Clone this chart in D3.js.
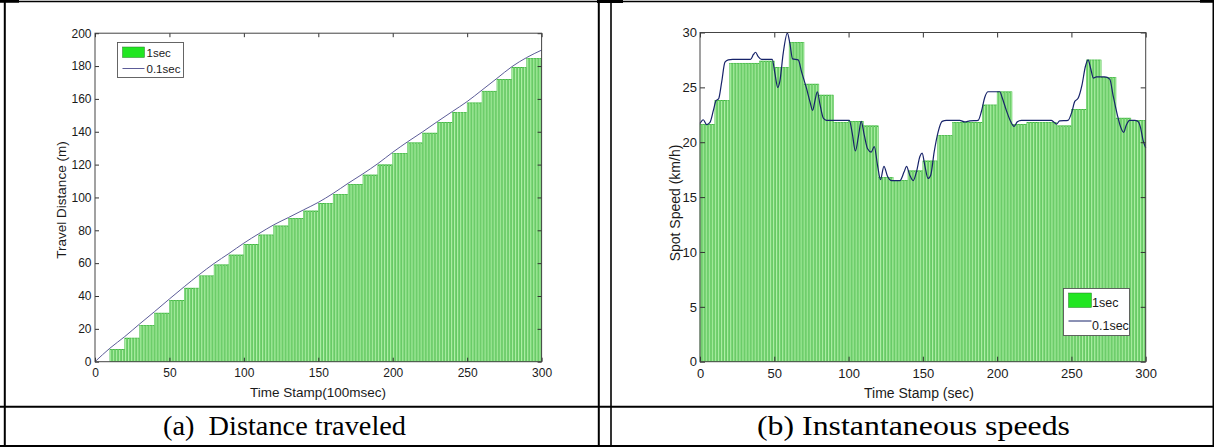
<!DOCTYPE html>
<html>
<head>
<meta charset="utf-8">
<script src="https://cdn.jsdelivr.net/npm/d3@7"></script>
<style>
  html, body { margin: 0; padding: 0; background: #fff; }
  svg { display: block; }
</style>
</head>
<body>
<svg id="fig" width="1214" height="447"></svg>
<script>

// ---- data ----

// shared x ticks (both panels)
var xTicks = [0, 50, 100, 150, 200, 250, 300]

// (a) distance : 1sec steps, one value per 10 time units
var distSteps = [0, 7.3, 14.4, 22.1, 29.6, 37.3, 44.8, 52.3, 59, 65,
  71.5, 77.2, 82.7, 87.1, 91.8, 96.4, 101.9, 108, 113.7, 119.9,
  126.9, 133.3, 139.2, 145.5, 151.6, 157.6, 164.7, 171.9, 179.1, 184.6]
// (a) distance : 0.1sec curve
var distLineT = [0, 10, 20, 30, 40, 50, 60, 70, 80, 90, 100, 110, 120, 130, 140, 150,
  160, 170, 180, 190, 200, 210, 220, 230, 240, 250, 260, 270, 280, 290, 300]
var distLineV = [0, 8.2, 15.3, 23, 30.5, 38.2, 45.7, 53, 59.8, 65.9, 72.2, 77.9, 83.3, 87.8, 92.4, 97,
  102.5, 108.6, 114.4, 120.6, 127.5, 133.9, 139.9, 146.2, 152.3, 158.4, 165.4, 172.5, 179.6, 185.2, 189.7]
var distTicks = [0, 20, 40, 60, 80, 100, 120, 140, 160, 180, 200]

// (b) speed : 1sec steps
var speedSteps = [21.6, 23.8, 27.2, 27.2, 27.4, 26.8, 29.1, 25.3, 24.3, 21.8,
  21.9, 21.5, 16.8, 16.5, 17.4, 18.3, 20.6, 21.8, 21.8, 23.4,
  24.6, 21.6, 21.8, 21.8, 21.5, 23.0, 27.5, 25.9, 22.2, 22.0]
// (b) speed : 0.1sec curve
var speedLineT = [0, 2.2, 4.5, 6.7, 9, 10.8, 12.5, 14.6, 16.8, 19, 22, 34, 36, 37.4, 39.2, 41.4, 48.6,
  50.4, 52.3, 53.8, 56, 58.8, 60.5, 62.3, 66.1, 68.4, 71.7, 74, 75.8, 77.4, 79, 80.7, 83, 85.2,
  100.5, 102.5, 104.6, 106.6, 108.5, 110.5, 112.8, 115.2, 117.3, 119.5, 121.5, 123.8, 126.2, 129,
  134.5, 137.4, 139, 141.2, 143.5, 145.7, 148, 149.5, 151.3, 153.5, 155.3, 157.6, 160.3, 163, 165.9,
  174.8, 178.2, 181.6, 187.2, 189.4, 191.7, 193.9, 201.8, 203.3, 206.2, 209.2, 211.4, 213.6, 216.3,
  236.5, 239.9, 242.1, 247.7, 250.4, 252.2, 254.5, 257.1, 259.4, 261.2, 263, 264.8, 266.8, 272.4,
  275.8, 278, 280.9, 283.1, 285.2, 286.9, 289.2, 292.6, 294.8, 296.4, 298.2, 300]
var speedLineV = [21.7, 22.05, 21.6, 21.8, 22.9, 23.8, 23.95, 25.5, 27.3, 27.5, 27.55, 27.55, 28.0, 28.2, 27.8, 27.55, 27.55,
  26.3, 25.0, 25.6, 28.1, 29.95, 29.0, 27.6, 27.5, 26.4, 24.9, 23.7, 22.9, 23.8, 24.6, 23.5, 22.2, 22.0,
  22.0, 20.8, 19.2, 20.5, 21.9, 20.7, 19.4, 19.1, 19.6, 17.9, 16.6, 17.8, 16.9, 16.5,
  16.5, 17.3, 17.8, 17.0, 16.5, 17.3, 18.7, 19.0, 17.9, 16.7, 17.0, 19.1, 20.95, 21.9, 22.0,
  22.0, 21.85, 21.95, 22.0, 22.8, 24.1, 24.6, 24.6, 24.1, 22.9, 21.86, 21.45, 21.86, 22.0,
  22.0, 21.65, 21.95, 22.0, 22.8, 23.7, 24.0, 25.2, 26.9, 27.5, 26.7, 25.85, 25.95, 25.95,
  25.75, 24.3, 22.5, 21.4, 20.9, 21.55, 22.0, 22.0, 21.9, 21.4, 20.2, 19.5]
var speedTicks = [0, 5, 10, 15, 20, 25, 30]

var legendLabels = ['1sec', '0.1sec']


///////////////////////////////////////////////////////////////////////////////

var svg = d3.select('#fig')
var sansFont = '"Liberation Sans", Arial, Helvetica, sans-serif'
var serifFont = '"Liberation Serif", "Times New Roman", Times, serif'

// table borders
function drawTable(){
  var t = svg.append('g').attr('class', 'table')
  var lines = [
    [0, 1.4, 1214, 1.4, 1.5],
    [0, 406.7, 1214, 406.7, 2],
    [0, 446, 1214, 446, 2],
    [4.8, 0, 4.8, 447, 2],
    [598.8, 0, 598.8, 447, 2],
    [611, 0, 611, 447, 1.6],
    [1213.5, 0, 1213.5, 447, 2]
  ]
  lines.forEach(function(l){
    t.append('line')
      .attr('x1', l[0]).attr('y1', l[1]).attr('x2', l[2]).attr('y2', l[3])
      .attr('stroke', '#000').attr('stroke-width', l[4])
  })
  // thicker corner bits at the top edge
  t.append('rect').attr('x', 0).attr('y', 0).attr('width', 19).attr('height', 2.7).attr('fill', '#000')
  t.append('rect').attr('x', 597).attr('y', 0).attr('width', 26).attr('height', 3).attr('fill', '#000')
  t.append('rect').attr('x', 1200).attr('y', 0).attr('width', 14).attr('height', 2.7).attr('fill', '#000')
}

// one matlab style panel
function drawPanel(cfg){
  var g = svg.append('g').attr('class', 'panel')

  var x = d3.scaleLinear().domain([0, 300]).range([cfg.left, cfg.right])
  var y = d3.scaleLinear().domain([0, cfg.yMax]).range([cfg.bottom, cfg.top])

  // 1sec bars, drawn as 300 thin bars (one per 0.1sec slot)
  var bars = d3.range(300).map(function(j){
    return {j: j, v: cfg.steps[Math.floor(j / 10)]}
  })
  g.append('g').selectAll('rect')
      .data(bars.filter(function(d){ return d.v > 0 }))
    .enter().append('rect')
      .attr('x', function(d){ return x(d.j) })
      .attr('width', function(d){ return x(d.j + 1) - x(d.j) })
      .attr('y', function(d){ return y(d.v) })
      .attr('height', function(d){ return y(0) - y(d.v) })
      .attr('fill', '#b0f0a8')
      .attr('stroke', '#40b840')
      .attr('stroke-width', 0.5)

  // 0.1sec curve
  var pts = cfg.lineT.map(function(t, i){ return [t, cfg.lineV[i]] })
  g.append('path')
      .datum(pts)
      .attr('fill', 'none')
      .attr('stroke', cfg.lineColor)
      .attr('stroke-width', cfg.lineWidth)
      .attr('d', d3.line()
        .x(function(d){ return x(d[0]) })
        .y(function(d){ return y(d[1]) })
        .curve(d3.curveMonotoneX))

  // axes, ticks pointing inwards on all four sides
  function styleAxis(sel){
    sel.select('.domain').remove()
    sel.selectAll('.tick line').attr('stroke', '#333')
    sel.selectAll('.tick text')
      .attr('fill', '#1a1a1a')
      .style('font-family', sansFont)
      .style('font-size', cfg.tickFont + 'px')
  }
  g.append('g')
      .attr('transform', 'translate(0,' + cfg.bottom + ')')
      .call(d3.axisBottom(x).tickValues(xTicks).tickSizeInner(-cfg.tick).tickSizeOuter(0).tickPadding(cfg.xPad))
      .call(styleAxis)
  g.append('g')
      .attr('transform', 'translate(' + cfg.left + ',0)')
      .call(d3.axisLeft(y).tickValues(cfg.yTicks).tickSizeInner(-cfg.tick).tickSizeOuter(0).tickPadding(cfg.yPad))
      .call(styleAxis)
  g.append('g')
      .attr('transform', 'translate(0,' + cfg.top + ')')
      .call(d3.axisTop(x).tickValues(xTicks).tickSizeInner(-cfg.tick).tickSizeOuter(0).tickFormat(''))
      .call(styleAxis)
  g.append('g')
      .attr('transform', 'translate(' + cfg.right + ',0)')
      .call(d3.axisRight(y).tickValues(cfg.yTicks).tickSizeInner(-cfg.tick).tickSizeOuter(0).tickFormat(''))
      .call(styleAxis)

  // axes box
  g.append('rect')
      .attr('x', cfg.left).attr('y', cfg.top)
      .attr('width', cfg.right - cfg.left).attr('height', cfg.bottom - cfg.top)
      .attr('fill', 'none').attr('stroke', '#444').attr('stroke-width', 1)

  // axis titles
  g.append('text')
      .attr('x', cfg.xTitle[1]).attr('y', cfg.xTitle[2])
      .attr('text-anchor', 'middle')
      .style('font-family', sansFont).style('font-size', cfg.titleFont + 'px')
      .attr('fill', '#1a1a1a')
      .text(cfg.xTitle[0])
  g.append('text')
      .attr('transform', 'translate(' + cfg.yTitle[1] + ',' + cfg.yTitle[2] + ') rotate(-90)')
      .attr('text-anchor', 'middle')
      .style('font-family', sansFont).style('font-size', cfg.titleFont + 'px')
      .attr('fill', '#1a1a1a')
      .text(cfg.yTitle[0])

  // legend
  var L = cfg.legend
  var lg = g.append('g').attr('transform', 'translate(' + L.x + ',' + L.y + ')')
  lg.append('rect')
      .attr('width', L.w).attr('height', L.h)
      .attr('fill', '#fff').attr('stroke', '#555').attr('stroke-width', 0.9)
  lg.append('rect')
      .attr('x', 5).attr('y', L.swY).attr('width', L.swW).attr('height', L.swH)
      .attr('fill', '#22e622').attr('stroke', '#2a7a2a').attr('stroke-width', 0.5)
  lg.append('line')
      .attr('x1', 5).attr('x2', 5 + L.swW).attr('y1', L.lineY).attr('y2', L.lineY)
      .attr('stroke', cfg.lineColor).attr('stroke-width', 1)
  lg.selectAll('text.lab')
      .data(legendLabels)
    .enter().append('text')
      .attr('class', 'lab')
      .attr('x', L.textX)
      .attr('y', function(d, i){ return L.textY[i] })
      .style('font-family', sansFont).style('font-size', L.font + 'px')
      .attr('fill', '#1a1a1a')
      .text(function(d){ return d })
}

drawTable()

// (a) Distance traveled
drawPanel({
  left: 95, right: 541.6, top: 33.2, bottom: 361.7,
  yMax: 200, yTicks: distTicks,
  steps: distSteps, lineT: distLineT, lineV: distLineV,
  lineColor: '#5c5c98', lineWidth: 1,
  tick: 4, tickFont: 12, xPad: 6.5, yPad: 3.5, titleFont: 13.5,
  xTitle: ['Time Stamp(100msec)', 318, 397],
  yTitle: ['Travel Distance (m)', 66, 200],
  legend: {x: 117.5, y: 42.5, w: 66, h: 35, swY: 4.5, swW: 22, swH: 10.5, lineY: 26,
    textX: 29, textY: [14.5, 30.3], font: 11.5}
})

// (b) Instantaneous speeds
drawPanel({
  left: 700, right: 1145.7, top: 32.5, bottom: 361.7,
  yMax: 30, yTicks: speedTicks,
  steps: speedSteps, lineT: speedLineT, lineV: speedLineV,
  lineColor: '#17236a', lineWidth: 1.2,
  tick: 5, tickFont: 13, xPad: 7, yPad: 3, titleFont: 14,
  xTitle: ['Time Stamp (sec)', 919, 398],
  yTitle: ['Spot Speed (km/h)', 680, 203],
  legend: {x: 1063.5, y: 288.5, w: 66, h: 47, swY: 4.5, swW: 23, swH: 14.5, lineY: 32.5,
    textX: 28.5, textY: [18, 41], font: 12.5}
})

// captions
svg.append('text')
    .attr('x', 163).attr('y', 435)
    .attr('textLength', 243).attr('lengthAdjust', 'spacingAndGlyphs')
    .style('font-family', serifFont).style('font-size', '28px').style('white-space', 'pre')
    .attr('fill', '#000')
    .text('(a)  Distance traveled')
svg.append('text')
    .attr('x', 757).attr('y', 435)
    .attr('textLength', 313).attr('lengthAdjust', 'spacingAndGlyphs')
    .style('font-family', serifFont).style('font-size', '28px')
    .attr('fill', '#000')
    .text('(b) Instantaneous speeds')

</script>
</body>
</html>
